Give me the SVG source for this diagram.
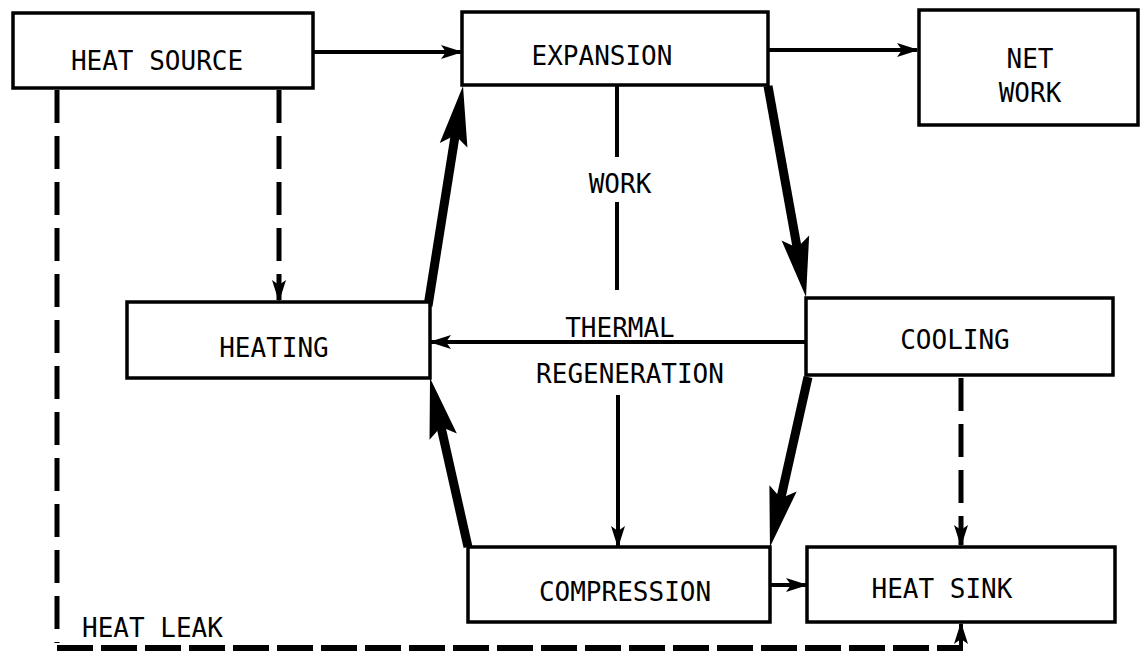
<svg xmlns="http://www.w3.org/2000/svg" width="1141" height="652" viewBox="0 0 1141 652">
<style>
.box{fill:#fff;stroke:#000;stroke-width:3.5}
.lbl{font-family:"DejaVu Sans Mono","Liberation Mono",monospace;font-size:26px;fill:#000;text-anchor:middle}
.thin{stroke:#000;stroke-width:4;fill:none}
.dash{stroke:#000;stroke-width:5;fill:none;stroke-dasharray:33 13}
.hdash{stroke:#000;stroke-width:6;fill:none;stroke-dasharray:36 8}
.thick{stroke:#000;stroke-width:9;fill:none}
</style>
<defs>
<marker id="ah" markerUnits="userSpaceOnUse" markerWidth="24" markerHeight="18" viewBox="0 -9 22 18" refX="20" refY="0" orient="auto">
<path d="M0,-7 L22,0 L0,7 L5,0 Z" fill="#000"/>
</marker>
<marker id="big" markerUnits="userSpaceOnUse" markerWidth="64" markerHeight="32" viewBox="0 -16 62 32" refX="30" refY="0" orient="auto">
<path d="M0,-14 L60,0 L0,14 L10,0 Z" fill="#000"/>
</marker>
</defs>
<g id="connectors">
<line class="thin" x1="313" y1="52" x2="461" y2="52" marker-end="url(#ah)"/>
<line class="thin" x1="768" y1="50" x2="917" y2="50" marker-end="url(#ah)"/>
<line class="thin" x1="617" y1="85" x2="617" y2="157"/>
<line class="thin" x1="617" y1="202" x2="617" y2="290"/>
<line class="thin" x1="806" y1="342" x2="431" y2="342" marker-end="url(#ah)"/>
<line class="thin" x1="618" y1="395" x2="618" y2="546" marker-end="url(#ah)"/>
<line class="thin" x1="770" y1="585" x2="806" y2="585" marker-end="url(#ah)"/>
<line class="dash" x1="279" y1="90" x2="279" y2="300" marker-end="url(#ah)"/>
<line class="dash" x1="961" y1="378" x2="961" y2="545" marker-end="url(#ah)"/>
<path class="dash" d="M57,90 V643"/>
<path class="hdash" d="M57,648 H963"/>
<line class="thin" x1="961" y1="645" x2="961" y2="624" marker-end="url(#ah)"/>
<line class="thick" x1="428" y1="306" x2="458.3" y2="115.6" marker-end="url(#big)"/>
<line class="thick" x1="768" y1="86" x2="800.7" y2="267.5" marker-end="url(#big)"/>
<line class="thick" x1="808" y1="377" x2="776.5" y2="517.7" marker-end="url(#big)"/>
<line class="thick" x1="468" y1="547" x2="436.6" y2="407.3" marker-end="url(#big)"/>
</g>
<g id="heat-source"><rect class="box" x="13" y="13" width="300" height="75"/><text class="lbl" x="157" y="70">HEAT SOURCE</text></g>
<g id="expansion"><rect class="box" x="462" y="12" width="306" height="73"/><text class="lbl" x="602" y="65">EXPANSION</text></g>
<g id="net-work"><rect class="box" x="919" y="10" width="219" height="115"/><text class="lbl" x="1030" y="68">NET</text><text class="lbl" x="1030" y="102">WORK</text></g>
<g id="heating"><rect class="box" x="127" y="302" width="303" height="76"/><text class="lbl" x="274" y="357">HEATING</text></g>
<g id="cooling"><rect class="box" x="806" y="298" width="307" height="77"/><text class="lbl" x="955" y="349">COOLING</text></g>
<g id="compression"><rect class="box" x="468" y="547" width="302" height="75"/><text class="lbl" x="625" y="601">COMPRESSION</text></g>
<g id="heat-sink"><rect class="box" x="807" y="547" width="308" height="75"/><text class="lbl" x="942" y="598">HEAT SINK</text></g>
<g id="labels">
<text class="lbl" x="620" y="193">WORK</text>
<text class="lbl" x="620" y="337">THERMAL</text>
<text class="lbl" x="630" y="383">REGENERATION</text>
<text class="lbl" x="82" y="637" style="text-anchor:start">HEAT LEAK</text>
</g>
</svg>
